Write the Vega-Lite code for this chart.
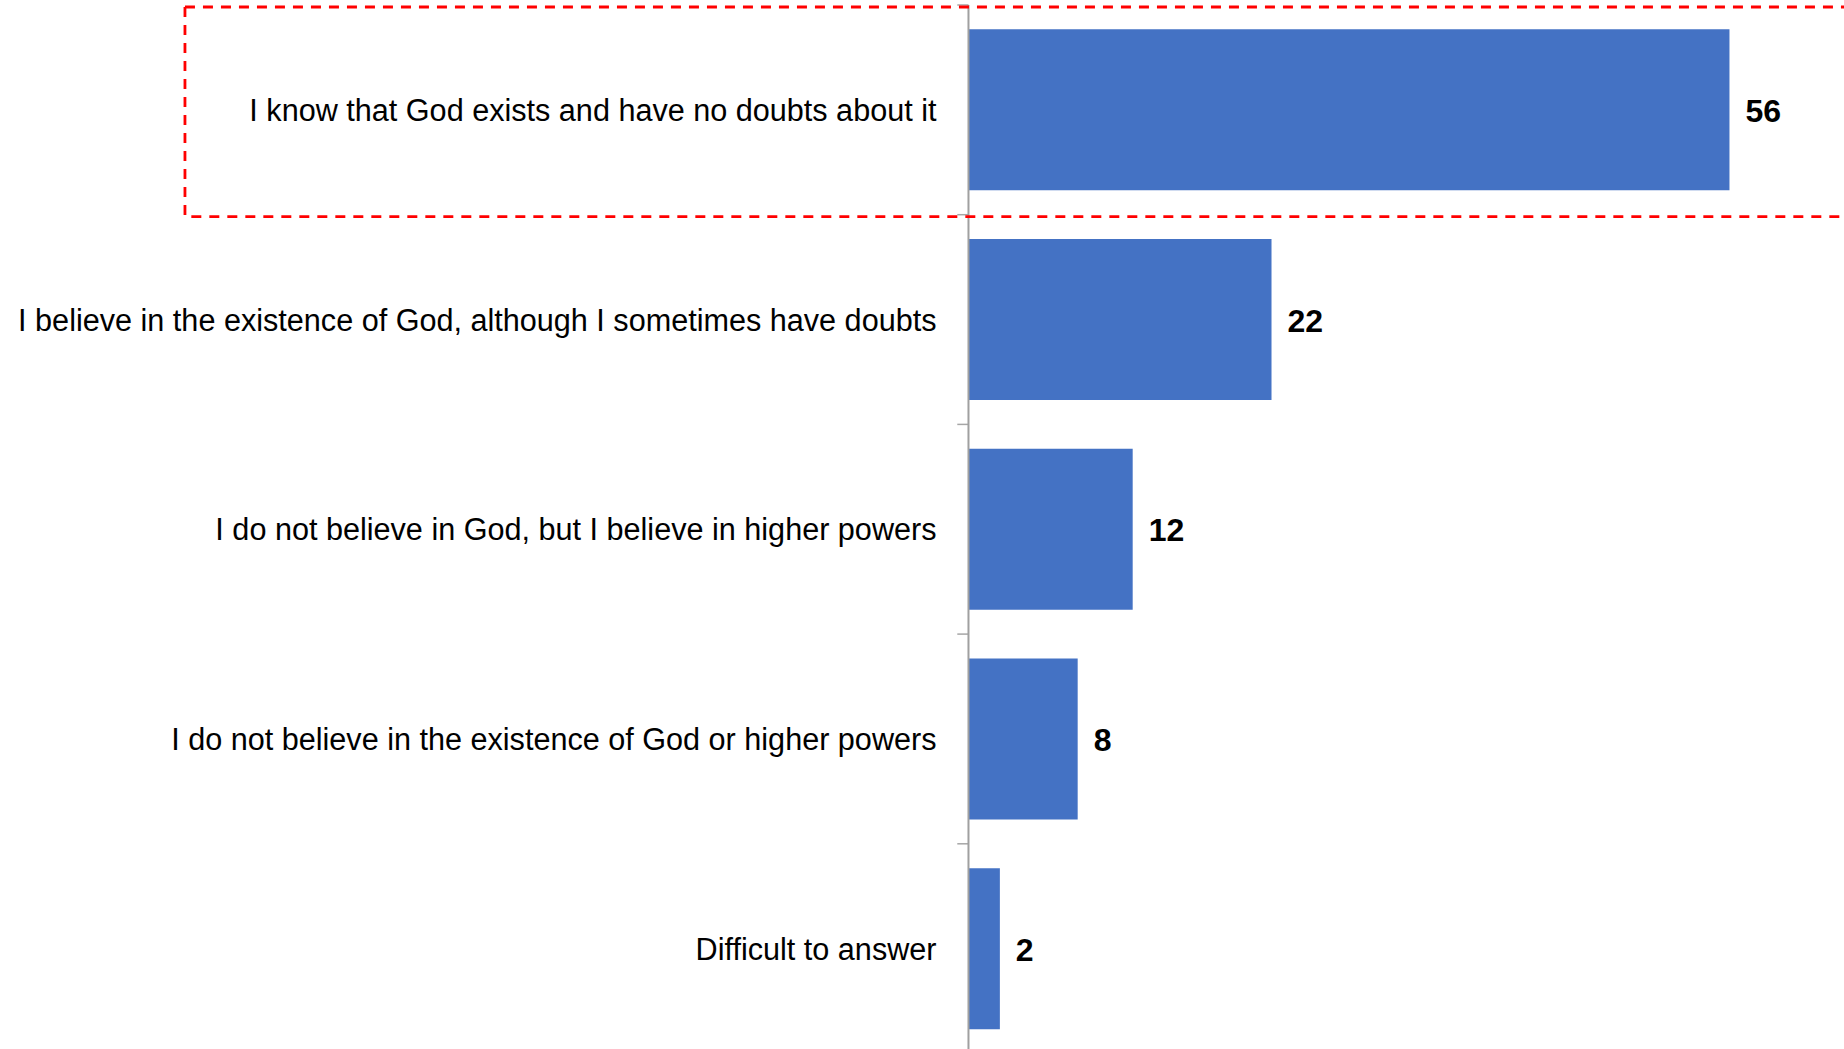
{
  "$schema": "https://vega.github.io/schema/vega-lite/v6.json",
  "autosize": {"type": "none"},
  "width": 1844,
  "height": 1044,
  "padding": {"top": 5, "left": 0, "right": 0, "bottom": 0},
  "background": "white",
  "config": {"view": {"stroke": null}},
  "data": {
    "values": [
      {"answer": "I know that God exists and have no doubts about it", "value": 55.75},
      {"answer": "I believe in the existence of God, although I sometimes have doubts", "value": 22.2},
      {"answer": "I do not believe in God, but I believe in higher powers", "value": 12.03},
      {"answer": "I do not believe in the existence of God or higher powers", "value": 8.0},
      {"answer": "Difficult to answer", "value": 2.3}
    ]
  },
  "encoding": {
    "y": {
      "field": "answer",
      "type": "nominal",
      "axis": null,
      "scale": {
        "domain": [
          "I know that God exists and have no doubts about it",
          "I believe in the existence of God, although I sometimes have doubts",
          "I do not believe in God, but I believe in higher powers",
          "I do not believe in the existence of God or higher powers",
          "Difficult to answer"
        ],
        "range": [0, 1048.5],
        "paddingInner": 0,
        "paddingOuter": 0
      }
    }
  },
  "layer": [
    {
      "mark": {"type": "bar", "color": "#4472C4", "height": {"band": 0.768}},
      "encoding": {
        "x": {"field": "value", "type": "quantitative", "axis": null,
              "scale": {"domain": [-70.95, 64.14], "nice": false, "zero": false}}
      }
    },
    {
      "mark": {"type": "text", "align": "right", "baseline": "middle", "dx": -32, "dy": 2,
               "font": "Liberation Sans, Arial, sans-serif",
               "fontSize": 30.6, "color": "#000000"},
      "encoding": {
        "x": {"datum": 0},
        "text": {"field": "answer"}
      }
    },
    {
      "mark": {"type": "text", "align": "left", "baseline": "middle", "dx": 16, "dy": 2,
               "font": "Liberation Sans, Arial, sans-serif",
               "fontSize": 32, "fontWeight": "bold", "color": "#000000"},
      "encoding": {
        "x": {"field": "value", "type": "quantitative"},
        "text": {"field": "value", "type": "quantitative", "format": ".0f"}
      }
    },
    {
      "mark": {"type": "rule", "color": "#A6A6A6", "strokeWidth": 1.5},
      "encoding": {
        "y": {"field": "answer", "type": "nominal", "bandPosition": 0},
        "x": {"datum": -0.82},
        "x2": {"datum": 0}
      }
    },
    {
      "data": {"values": [{}]},
      "mark": {"type": "rule", "color": "#A0A0A0", "strokeWidth": 2},
      "encoding": {
        "y": null,
        "x": {"datum": 0}
      }
    },
    {
      "transform": [{"filter": "datum.answer === 'I know that God exists and have no doubts about it'"}],
      "mark": {"type": "rect", "fill": null, "fillOpacity": 0, "stroke": "#FF0000", "strokeWidth": 2.8,
               "strokeDash": [10, 8], "yOffset": 2},
      "encoding": {
        "x": {"datum": -57.4},
        "x2": {"datum": 72}
      }
    }
  ]
}
